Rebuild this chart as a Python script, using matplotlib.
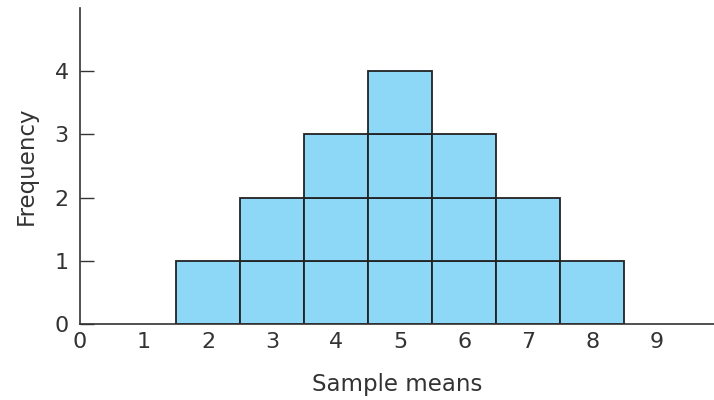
import matplotlib
matplotlib.use("Agg")
import matplotlib.pyplot as plt

sample_means = [2, 3, 4, 5, 6, 7, 8]
frequency = [1, 2, 3, 4, 3, 2, 1]
x_ticks = [0, 1, 2, 3, 4, 5, 6, 7, 8, 9]
y_ticks = [0, 1, 2, 3, 4]

plt.rcParams['font.family'] = ['DejaVu Sans']
text_color = '#333333'

fig = plt.figure(figsize=(7.14, 4.0), dpi=100)
ax = fig.add_axes([0.112, 0.19, 0.888, 0.79])

for x, f in zip(sample_means, frequency):
    for level in range(f):
        ax.bar(x, 1, bottom=level, width=1.0, color='#8ED8F7',
               edgecolor='#222222', linewidth=1.3, zorder=2)

ax.set_xlim(0, 9.9)
ax.set_ylim(0, 5.0)
ax.set_xticks(x_ticks)
ax.set_yticks(y_ticks)
ax.tick_params(axis='x', length=0, pad=6, labelsize=16, labelcolor=text_color)
ax.tick_params(axis='y', direction='in', length=10, width=1, color='#333333',
               pad=8, labelsize=16, labelcolor=text_color)
for s in ['top', 'right']:
    ax.spines[s].set_visible(False)
for s in ['left', 'bottom']:
    ax.spines[s].set_color('#333333')
    ax.spines[s].set_linewidth(1.2)

ax.set_xlabel('Sample means', fontsize=16.5, color=text_color, labelpad=15)
ax.set_ylabel('Frequency', fontsize=16.5, color=text_color, labelpad=12)

fig.savefig('out.png', dpi=100)
